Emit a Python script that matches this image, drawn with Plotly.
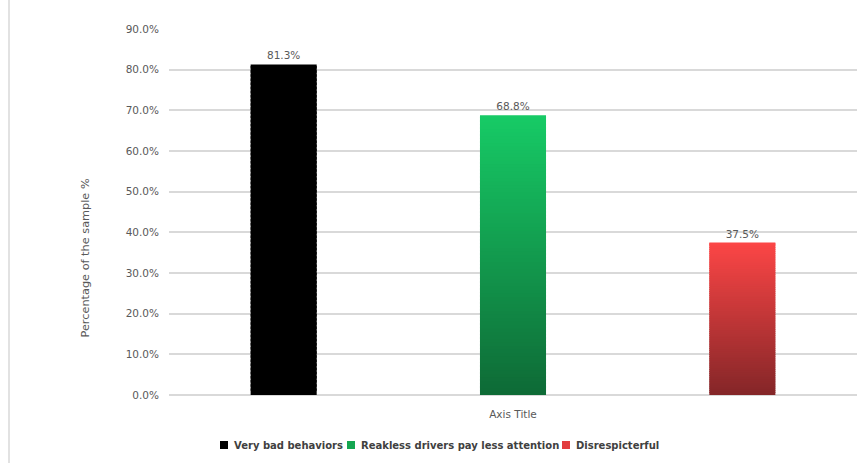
import plotly.graph_objects as go

# Survey results
category = ["Axis Title"]
series_names = ["Very bad behaviors", "Reakless drivers pay less attention", "Disrespicterful"]
series_values = [81.3, 68.8, 37.5]
y_ticks = [0, 10, 20, 30, 40, 50, 60, 70, 80, 90]
y_tick_labels = [f"{v:.1f}%" for v in y_ticks]

# top / bottom colours of each bar's vertical gradient, and the legend swatch colour
gradients = [
    ((0, 0, 0), (0, 0, 0)),
    ((23, 203, 102), (14, 106, 54)),
    ((252, 70, 70), (132, 38, 40)),
]
swatches = ["#000000", "#14a651", "#e23d3f"]

N_SEG = 80


def mix(top, bottom, t):
    # t = 0 at the bottom of the bar, 1 at the top
    return "rgb({},{},{})".format(*[round(b + (a - b) * t) for a, b in zip(top, bottom)])


fig = go.Figure()
for name, value, (top, bottom) in zip(series_names, series_values, gradients):
    step = value / N_SEG
    for i in range(N_SEG):
        last = i == N_SEG - 1
        # every slice but the last overlaps the next one so no seams show
        height = step if last else step * 1.6
        fig.add_trace(go.Bar(
            x=category,
            y=[height],
            base=[step * i],
            name=name,
            legendgroup=name,
            offsetgroup=name,
            showlegend=False,
            marker=dict(color=mix(top, bottom, (i + 0.5) / N_SEG), line=dict(width=0)),
            text=[f"{value:.1f}%"] if last else None,
            textposition="outside" if last else "none",
            textfont=dict(family="DejaVu Sans", size=10.5, color="#595959"),
            cliponaxis=False,
            hoverinfo="skip",
        ))

# legend row below the axis title (square swatch + bold label)
PLOT_L, PLOT_W, PLOT_B, PLOT_H = 169, 688, 395, 366
legend_x = [220, 347, 562]
legend_y = 445


def px_x(v):
    return (v - PLOT_L) / PLOT_W


def px_y(v):
    return (PLOT_B - v) / PLOT_H


shapes = [
    dict(type="line", xref="paper", yref="paper",
         x0=px_x(9), x1=px_x(9), y0=px_y(470), y1=px_y(-5),
         line=dict(color="#d9d9d9", width=1.5)),
]
annotations = [
    dict(
        text="Percentage of the sample %",
        xref="paper", yref="paper",
        x=px_x(76), y=px_y(258),
        textangle=-90,
        showarrow=False,
        font=dict(family="DejaVu Sans", size=11.3, color="#595959"),
    )
]
for name, color, lx in zip(series_names, swatches, legend_x):
    shapes.append(dict(type="rect", xref="paper", yref="paper",
                       x0=px_x(lx), x1=px_x(lx + 8),
                       y0=px_y(legend_y + 4), y1=px_y(legend_y - 4),
                       fillcolor=color, line=dict(width=0)))
    annotations.append(dict(
        text=f"<b>{name}</b>",
        xref="paper", yref="paper",
        x=px_x(lx + 12), y=px_y(legend_y),
        xanchor="left", yanchor="middle",
        showarrow=False,
        font=dict(family="DejaVu Sans", size=10, color="#404040"),
    ))

fig.update_layout(
    width=857,
    height=463,
    margin=dict(l=PLOT_L, r=0, t=29, b=68),
    paper_bgcolor="white",
    plot_bgcolor="white",
    barmode="group",
    bargap=0,
    bargroupgap=0.712,
    font=dict(family="DejaVu Sans", size=10.5, color="#595959"),
    showlegend=False,
    xaxis=dict(
        showticklabels=False,
        showgrid=False,
        showline=False,
        zeroline=False,
        title=dict(text="Axis Title", standoff=15,
                   font=dict(family="DejaVu Sans", size=10.5, color="#595959")),
    ),
    yaxis=dict(
        range=[0, 90],
        tickvals=y_ticks,
        ticktext=y_tick_labels,
        showgrid=True,
        gridcolor="#d9d9d9",
        gridwidth=1.5,
        zeroline=True,
        zerolinecolor="#d9d9d9",
        zerolinewidth=1.5,
        showline=False,
        ticklabelstandoff=9,
        tickfont=dict(family="DejaVu Sans", size=10.5, color="#595959"),
    ),
    annotations=annotations,
    shapes=shapes,
)

fig.write_html("out.html")
